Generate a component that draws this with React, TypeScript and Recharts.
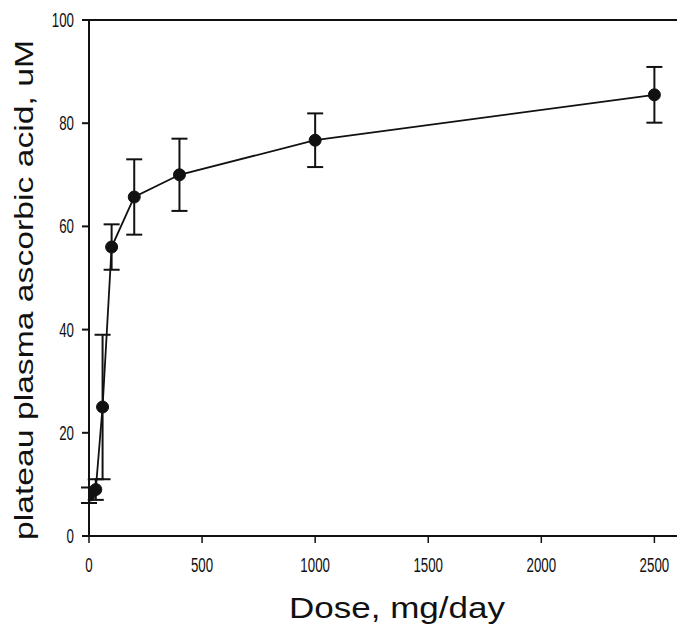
import React from "react";
import { LineChart, Line, XAxis, YAxis, ErrorBar, ReferenceLine } from "recharts";

const doses = [0, 30, 60, 100, 200, 400, 1000, 2500];
const plasma = [7.9, 9.0, 25.0, 56.0, 65.7, 70.0, 76.7, 85.5];
const errors = [1.5, 2.0, 14.0, 4.4, 7.3, 7.0, 5.2, 5.4];
const xTicks = [0, 500, 1000, 1500, 2000, 2500];
const yTicks = [0, 20, 40, 60, 80, 100];

const data = doses.map((d, i) => ({ dose: d, value: plasma[i], err: errors[i] }));

const tickFont = '"Liberation Sans", Arial, sans-serif';

const YTick = (props: any) => {
  const { x, y, payload } = props;
  const s = String(payload.value);
  return (
    <text x={x - 6} y={y} textAnchor="end" dominantBaseline="central" fontSize={20} fontWeight={500} fontFamily={tickFont} fill="#111" textLength={s.length * 7.4} lengthAdjust="spacingAndGlyphs">
      {s}
    </text>
  );
};

const XTick = (props: any) => {
  const { x, y, payload } = props;
  const s = String(payload.value);
  return (
    <text x={x} y={y + 20} textAnchor="middle" dominantBaseline="central" fontSize={20} fontWeight={500} fontFamily={tickFont} fill="#111" textLength={s.length * 7.4} lengthAdjust="spacingAndGlyphs">
      {s}
    </text>
  );
};

const YLabel = () => (
  <text
    x={0}
    y={0}
    transform="translate(24, 290) rotate(-90)"
    textAnchor="middle"
    dominantBaseline="central"
    fontSize={26}
    fontFamily='"Liberation Sans", Arial, sans-serif'
    fill="#111"
    textLength={500}
    lengthAdjust="spacingAndGlyphs"
  >
    plateau plasma ascorbic acid, uM
  </text>
);

const XLabel = () => (
  <text
    x={397}
    y={607}
    textAnchor="middle"
    dominantBaseline="central"
    fontSize={30}
    fontFamily='"Liberation Sans", Arial, sans-serif'
    fill="#111"
    textLength={216}
    lengthAdjust="spacingAndGlyphs"
  >
    Dose, mg/day
  </text>
);

export default function App() {
  return (
    <div style={{ position: "absolute", left: 0, top: 0, width: 677, height: 635, background: "#fff" }}>
      <LineChart width={677} height={635} data={data} margin={{ top: 20, right: 0, bottom: 0, left: 0 }}>
        <XAxis
          dataKey="dose"
          type="number"
          domain={[0, 2600]}
          ticks={xTicks}
          tick={<XTick />}
          tickSize={7}
          height={99}
          axisLine={{ stroke: "#111", strokeWidth: 2 }}
          tickLine={{ stroke: "#111", strokeWidth: 1.5 }}
          allowDataOverflow
          label={<XLabel />}
        />
        <YAxis
          type="number"
          domain={[0, 100]}
          ticks={yTicks}
          tick={<YTick />}
          tickSize={7}
          width={89}
          axisLine={{ stroke: "#111", strokeWidth: 2 }}
          tickLine={{ stroke: "#111", strokeWidth: 2 }}
          label={<YLabel />}
        />
        <ReferenceLine y={100} stroke="#111" strokeWidth={2} />
        <Line
          dataKey="value"
          type="linear"
          stroke="#111"
          strokeWidth={1.8}
          dot={{ r: 6, fill: "#111", stroke: "#111", strokeWidth: 1 }}
          isAnimationActive={false}
        >
          <ErrorBar dataKey="err" direction="y" width={8} stroke="#111" strokeWidth={2} />
        </Line>
      </LineChart>
    </div>
  );
}
